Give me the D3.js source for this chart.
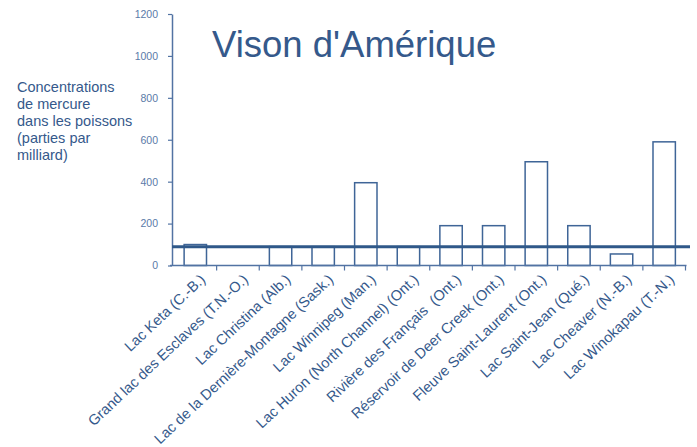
<!DOCTYPE html>
<html>
<head>
<meta charset="utf-8">
<script src="https://cdn.jsdelivr.net/npm/d3@7"></script>
<style>
  body { margin: 0; background: #fff; }
  svg { font-family: "Liberation Sans", Arial, sans-serif; }
  .xlab { white-space: pre; }
</style>
</head>
<body>
<svg id="chart" width="697" height="447"></svg>
<script>
'use strict';

// data
var lakes = [
  "Lac Keta (C.-B.)",
  "Grand lac des Esclaves (T.N.-O.)",
  "Lac Christina (Alb.)",
  "Lac de la Dernière-Montagne (Sask.)",
  "Lac Winnipeg (Man.)",
  "Lac Huron (North Channel) (Ont.)",
  "Rivière des Français  (Ont.)",
  "Réservoir de Deer Creek (Ont.)",
  "Fleuve Saint-Laurent (Ont.)",
  "Lac Saint-Jean (Qué.)",
  "Lac Cheaver (N.-B.)",
  "Lac Winokapau (T.-N.)"
];
var mercury = [100, null, 90, 90, 395, 90, 190, 190, 495, 190, 55, 590];
var refLevel = 90;
var yTicks = [0, 200, 400, 600, 800, 1000, 1200];
var yTitle = ["Concentrations", "de mercure", "dans les poissons", "(parties par", "milliard)"];
var title = "Vison d'Amérique";

var textCol = "#35598b", tickCol = "#5a7aa8", axisCol = "#5273a3", barCol = "#3f6597";

var svg = d3.select("#chart");
svg.append("rect").attr("width", 697).attr("height", 447).attr("fill", "#fff");

var x = d3.scaleBand().domain(lakes).range([174, 685.5]);
var y = d3.scaleLinear().domain([0, 1200]).range([265.5, 14]);
var bw = x.bandwidth() * 0.525;

// y axis
var yAxis = svg.append("g")
  .attr("transform", "translate(172,0)")
  .call(d3.axisLeft(y).tickValues(yTicks).tickSize(4).tickSizeOuter(0).tickPadding(10).tickFormat(d3.format("d")));
yAxis.select(".domain").attr("stroke", axisCol).attr("stroke-width", 1.5);
yAxis.selectAll(".tick line").attr("stroke", axisCol).attr("stroke-width", 1.2);
yAxis.selectAll(".tick text")
  .attr("fill", tickCol)
  .style("font-size", "10.5px")
  .style("font-family", "'Liberation Sans', Arial, sans-serif");

// bars (white with outline)
svg.append("g").selectAll("rect")
  .data(lakes.map(function (d, i) { return {name: d, v: mercury[i]}; })
    .filter(function (d) { return d.v != null; }))
  .enter().append("rect")
  .attr("x", function (d) { return x(d.name) + x.bandwidth() / 2 - bw / 2; })
  .attr("y", function (d) { return y(d.v); })
  .attr("width", bw)
  .attr("height", function (d) { return y(0) - y(d.v); })
  .attr("fill", "#fff")
  .attr("stroke", barCol)
  .attr("stroke-width", 1.5);

// x axis: baseline and ticks between categories
var xg = svg.append("g");
xg.append("line")
  .attr("x1", 170).attr("x2", x.range()[1] + 1)
  .attr("y1", y(0)).attr("y2", y(0))
  .attr("stroke", axisCol).attr("stroke-width", 1.5);
xg.selectAll("line.tk")
  .data(lakes)
  .enter().append("line")
  .attr("class", "tk")
  .attr("x1", function (d) { return x(d) + x.bandwidth(); })
  .attr("x2", function (d) { return x(d) + x.bandwidth(); })
  .attr("y1", y(0)).attr("y2", y(0) + 5)
  .attr("stroke", axisCol).attr("stroke-width", 1.2);

// rotated category labels
xg.selectAll("text")
  .data(lakes)
  .enter().append("text")
  .attr("class", "xlab")
  .attr("transform", function (d) {
    return "translate(" + (x(d) + x.bandwidth() / 2 + 2) + ",271) rotate(-43.3)";
  })
  .attr("dy", "0.9em")
  .attr("text-anchor", "end")
  .attr("fill", textCol)
  .style("font-size", "14.6px")
  .text(function (d) { return d; });

// reference level line
svg.append("line")
  .attr("x1", 172).attr("x2", 690)
  .attr("y1", y(refLevel)).attr("y2", y(refLevel))
  .attr("stroke", "#2f5889").attr("stroke-width", 3);

// title
svg.append("text")
  .attr("x", 212).attr("y", 57)
  .attr("fill", textCol)
  .style("font-size", "36.5px")
  .text(title);

// y title (multi-line)
svg.append("text")
  .attr("fill", textCol)
  .style("font-size", "14.5px")
  .selectAll("tspan")
  .data(yTitle)
  .enter().append("tspan")
  .attr("x", 17)
  .attr("y", function (d, i) { return 92 + i * 17; })
  .text(function (d) { return d; });
</script>
</body>
</html>
